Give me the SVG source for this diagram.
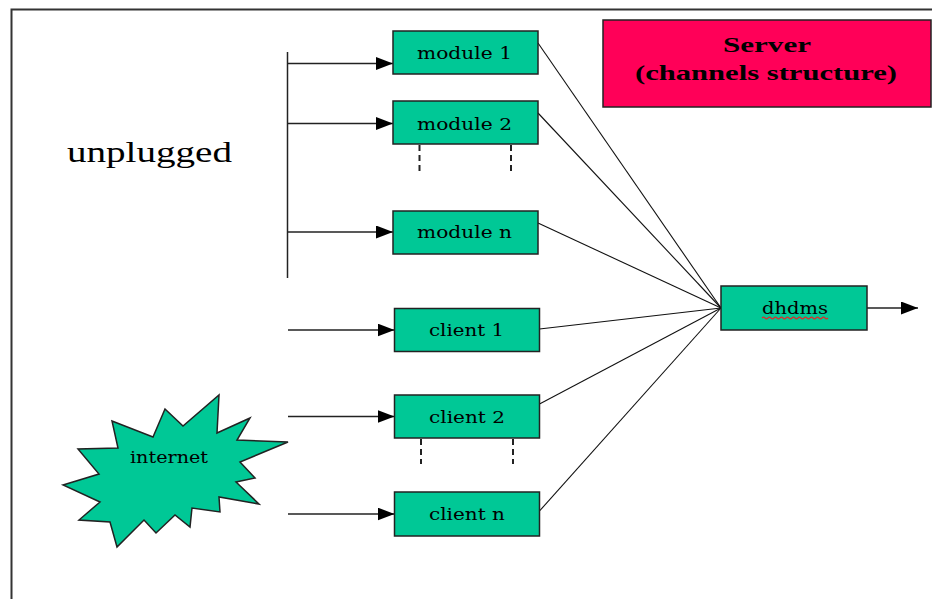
<svg xmlns="http://www.w3.org/2000/svg" width="932" height="599" viewBox="0 0 932 599">
<style>
.box{fill:#00C896;stroke:#222;stroke-width:1.5}
.srv{fill:#FF0058;stroke:#222;stroke-width:1.5}
.lbl{font-family:"DejaVu Serif","Liberation Serif",serif;font-size:17px;fill:#000}
.big{font-family:"Liberation Serif","DejaVu Serif",serif;font-size:29px;fill:#000}
.bold{font-family:"Liberation Serif","DejaVu Serif",serif;font-weight:bold;font-size:22px;fill:#000}
.arr{stroke:#222;stroke-width:1.5;fill:none}
.fan{stroke:#111;stroke-width:1.1;fill:none}
.dash{stroke:#222;stroke-width:2;stroke-dasharray:6 4;fill:none}
.frame{stroke:#333;stroke-width:2;fill:none}
</style>
<defs>
<marker id="ah" markerWidth="17" markerHeight="13" refX="17" refY="6.5" orient="auto" markerUnits="userSpaceOnUse">
<path d="M0,0 L17,6.5 L0,13 Z" fill="#000"/>
</marker>
</defs>
<rect width="932" height="599" fill="#fff"/>
<path class="frame" d="M11.5,599 L11.5,9.5 L932,9.5"/>
<g id="label-unplugged"><text class="big" x="67" y="162" textLength="165" lengthAdjust="spacingAndGlyphs">unplugged</text></g>
<g id="connectors">
<line class="arr" x1="287.5" y1="52" x2="287.5" y2="278"/>
<line class="arr" x1="287.5" y1="63.5" x2="393" y2="63.5" marker-end="url(#ah)"/>
<line class="arr" x1="287.5" y1="123.5" x2="393" y2="123.5" marker-end="url(#ah)"/>
<line class="arr" x1="287.5" y1="232" x2="393" y2="232" marker-end="url(#ah)"/>
<line class="arr" x1="288" y1="330" x2="394.5" y2="330" marker-end="url(#ah)"/>
<line class="arr" x1="288" y1="416.5" x2="394.5" y2="416.5" marker-end="url(#ah)"/>
<line class="arr" x1="288" y1="514" x2="394.5" y2="514" marker-end="url(#ah)"/>
<line class="dash" x1="419.5" y1="145" x2="419.5" y2="173"/>
<line class="dash" x1="511" y1="145" x2="511" y2="173"/>
<line class="dash" x1="421" y1="439" x2="421" y2="464"/>
<line class="dash" x1="513" y1="439" x2="513" y2="464"/>
<line class="fan" x1="538" y1="43" x2="721" y2="308"/>
<line class="fan" x1="538" y1="113" x2="721" y2="308"/>
<line class="fan" x1="538" y1="223" x2="721" y2="308"/>
<line class="fan" x1="539.5" y1="329" x2="721" y2="308"/>
<line class="fan" x1="539.5" y1="404" x2="721" y2="308"/>
<line class="fan" x1="539.5" y1="511" x2="721" y2="308"/>
<line class="arr" x1="867" y1="308" x2="918" y2="308" marker-end="url(#ah)"/>
</g>
<g id="module-1"><rect class="box" x="393" y="31" width="145" height="43"/><text class="lbl" x="417" y="59" textLength="95" lengthAdjust="spacingAndGlyphs">module 1</text></g>
<g id="module-2"><rect class="box" x="393" y="101" width="145" height="43"/><text class="lbl" x="417" y="130" textLength="95" lengthAdjust="spacingAndGlyphs">module 2</text></g>
<g id="module-n"><rect class="box" x="393" y="211" width="145" height="43"/><text class="lbl" x="417" y="238" textLength="95" lengthAdjust="spacingAndGlyphs">module n</text></g>
<g id="client-1"><rect class="box" x="394.5" y="308.5" width="145" height="43"/><text class="lbl" x="429" y="336" textLength="75" lengthAdjust="spacingAndGlyphs">client 1</text></g>
<g id="client-2"><rect class="box" x="394.5" y="395" width="145" height="43"/><text class="lbl" x="429" y="423" textLength="76" lengthAdjust="spacingAndGlyphs">client 2</text></g>
<g id="client-n"><rect class="box" x="394.5" y="492" width="145" height="44"/><text class="lbl" x="429" y="519.5" textLength="76" lengthAdjust="spacingAndGlyphs">client n</text></g>
<g id="dhdms"><rect class="box" x="721" y="286" width="146" height="44"/><text class="lbl" x="762" y="314" textLength="66" lengthAdjust="spacingAndGlyphs">dhdms</text><path d="M762,318 q1.5,-1.6 3,0 t3,0 t3,0 t3,0 t3,0 t3,0 t3,0 t3,0 t3,0 t3,0 t3,0 t3,0 t3,0 t3,0 t3,0 t3,0 t3,0 t3,0 t3,0 t3,0 t3,0 t3,0" fill="none" stroke="#e02828" stroke-width="1.2"/></g>
<g id="server"><rect class="srv" x="603" y="20" width="328" height="87"/><text class="bold" x="767" y="52" text-anchor="middle" textLength="88" lengthAdjust="spacingAndGlyphs">Server</text><text class="bold" x="766" y="80" text-anchor="middle" textLength="262" lengthAdjust="spacingAndGlyphs">(channels structure)</text></g>
<g id="internet"><polygon class="box" stroke-width="1.2" points="63,485 99,474 78,449 118,448 112,421 153,437 165,409 183,426 219,395 217,433 250,418 237,440 288,442 240,462 255,478 236,482 259,504 219,497 220,512 192,508 190,527 175,515 156,533 144,520 117,547 110,522 79,520 100,502"/><text class="lbl" x="130" y="463" textLength="78" lengthAdjust="spacingAndGlyphs">internet</text></g>
</svg>
